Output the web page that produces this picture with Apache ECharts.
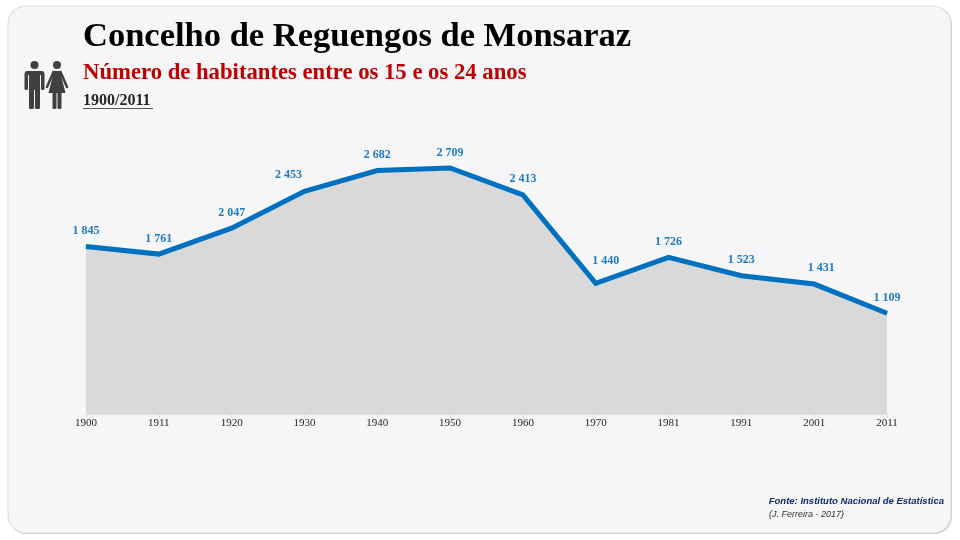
<!DOCTYPE html>
<html><head><meta charset="utf-8">
<style>html,body{margin:0;padding:0;background:#fff}#c{width:960px;height:540px}</style>
<script src="https://cdn.jsdelivr.net/npm/echarts@6/dist/echarts.min.js"></script>
</head><body><div id="c"></div>
<script>
const years = ['1900','1911','1920','1930','1940','1950','1960','1970','1981','1991','2001','2011'];
const habitantes = [1845,1761,2047,2453,2682,2709,2413,1440,1726,1523,1431,1109];
const titulo = 'Concelho de Reguengos de Monsaraz';
const subtitulo = 'Número de habitantes entre os 15 e os 24 anos';
const periodo = '1900/2011';
const fonte = 'Fonte: Instituto Nacional de Estatística';
const autor = '(J. Ferreira - 2017)';
const serif = '"Liberation Serif", serif';
const sans = '"Liberation Sans", Arial, sans-serif';
const fmt = v => String(v).replace(/\B(?=(\d{3})+$)/g, ' ');
const icon = '#404040';
const nudges = {3:[-16,-1], 7:[10,-7], 10:[7,-1]};
const seriesData = habitantes.map((v,i)=> nudges[i] ? {value:v,label:{offset:nudges[i]}} : {value:v});
const chart = echarts.init(document.getElementById('c'), null, {renderer:'canvas'});
chart.setOption({
  animation:false,
  backgroundColor:'#ffffff',
  grid:{left:86,right:73,top:141.6,bottom:126},
  xAxis:{type:'category',boundaryGap:false,data:years,
    axisLine:{show:true,lineStyle:{color:'#e2e2e2',width:1}},
    axisTick:{show:true,length:4,lineStyle:{color:'#d9d9d9'}},
    axisLabel:{color:'#262626',fontFamily:serif,fontSize:11,margin:4,hideOverlap:false,interval:0}},
  yAxis:{type:'value',min:0,max:3000,show:false,splitLine:{show:false}},
  series:[{type:'line',data:seriesData,symbol:'circle',symbolSize:1,showSymbol:true,smooth:false,z:5,
    itemStyle:{color:'#0070c0'},
    lineStyle:{color:'#0070c0',width:5,cap:'butt',join:'miter'},
    areaStyle:{color:'#d9d9d9',opacity:1},
    label:{show:true,position:'top',distance:9,color:'#1f7bc4',fontFamily:serif,fontWeight:'bold',fontSize:12,
      formatter:p=>fmt(p.value)}}],
  graphic:[
    {type:'rect',z:-11,silent:true,shape:{x:9,y:7,width:943,height:527,r:18},
      style:{fill:'#c4c4c4'}},
    {type:'rect',z:-10,silent:true,shape:{x:8,y:6,width:943,height:527,r:18},
      style:{fill:'#f6f5f7',stroke:'#e0e0e0',lineWidth:1.2}},
    {type:'text',left:83,top:20,z:10,style:{text:titulo,fill:'#000',font:'bold 34.5px '+serif}},
    {type:'text',left:83,top:62,z:10,style:{text:subtitulo,fill:'#c00000',font:'bold 22.7px '+serif}},
    {type:'text',left:83,top:93,z:10,style:{text:periodo,fill:'#262626',font:'bold 16px '+serif}},
    {type:'line',z:10,shape:{x1:83,y1:108.5,x2:153,y2:108.5},style:{stroke:'#555',lineWidth:1}},
    {type:'text',right:16,top:496,z:10,style:{text:fonte,fill:'#0f2a6b',font:'italic bold 9.5px '+sans}},
    {type:'text',left:769,top:510,z:10,style:{text:autor,fill:'#333',font:'italic 9px '+sans}},
    // man
    {type:'circle',z:10,shape:{cx:34.5,cy:65,r:4},style:{fill:icon}},
    {type:'rect',z:10,shape:{x:25,y:71,width:19,height:4,r:2},style:{fill:icon}},
    {type:'rect',z:10,shape:{x:24.5,y:72,width:3.5,height:18,r:1.5},style:{fill:icon}},
    {type:'rect',z:10,shape:{x:41,y:72,width:3.5,height:18,r:1.5},style:{fill:icon}},
    {type:'rect',z:10,shape:{x:29,y:71,width:11,height:19},style:{fill:icon}},
    {type:'rect',z:10,shape:{x:29,y:88,width:5,height:21,r:1.5},style:{fill:icon}},
    {type:'rect',z:10,shape:{x:35,y:88,width:5,height:21,r:1.5},style:{fill:icon}},
    // woman
    {type:'circle',z:10,shape:{cx:57,cy:65,r:4},style:{fill:icon}},
    {type:'polygon',z:10,shape:{points:[[54,71],[60,71],[65.5,93],[48.5,93]]},style:{fill:icon}},
    {type:'polyline',z:10,shape:{points:[[53.5,72],[47,87]]},style:{stroke:icon,lineWidth:2.5,lineCap:'round'}},
    {type:'polyline',z:10,shape:{points:[[60.5,72],[67,87]]},style:{stroke:icon,lineWidth:2.5,lineCap:'round'}},
    {type:'rect',z:10,shape:{x:52.5,y:92,width:4,height:17,r:1.5},style:{fill:icon}},
    {type:'rect',z:10,shape:{x:57.5,y:92,width:4,height:17,r:1.5},style:{fill:icon}}
  ]
});
</script></body></html>
